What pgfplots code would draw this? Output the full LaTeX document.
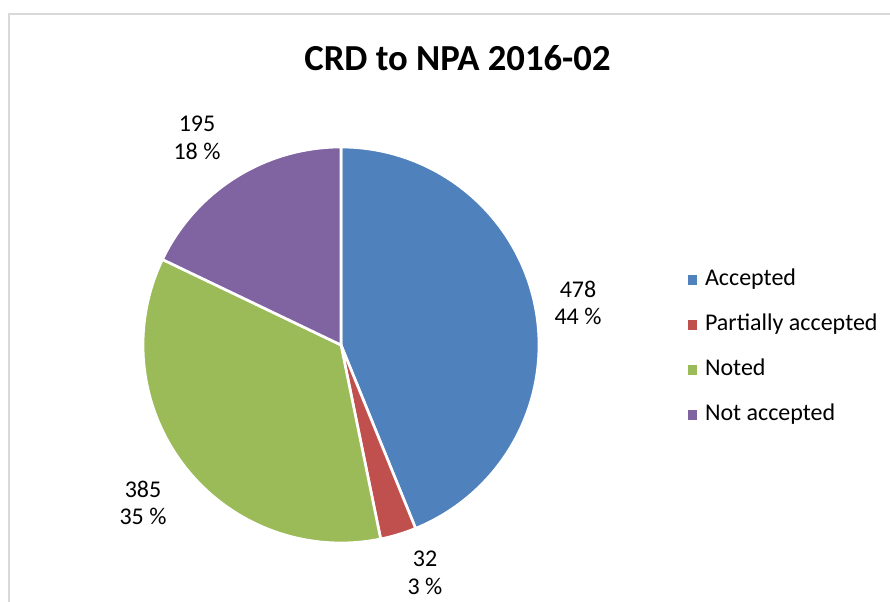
\documentclass[border=0pt]{standalone}
\usepackage{pgfplots}
\usepackage{pgfplotstable}
\pgfplotsset{compat=1.18}
\usepackage{fontspec}
\setmainfont{Carlito}

\definecolor{cAcc}{HTML}{4F81BD}
\definecolor{cPart}{HTML}{C0504D}
\definecolor{cNoted}{HTML}{9BBB59}
\definecolor{cNot}{HTML}{8064A2}
\definecolor{frame}{HTML}{D9D9D9}

\pgfplotstableread[col sep=comma]{
name,value
Accepted,478
Partially accepted,32
Noted,385
Not accepted,195
}\piedata

\pgfplotstablegetelem{0}{value}\of\piedata \let\vA\pgfplotsretval
\pgfplotstablegetelem{1}{value}\of\piedata \let\vB\pgfplotsretval
\pgfplotstablegetelem{2}{value}\of\piedata \let\vC\pgfplotsretval
\pgfplotstablegetelem{3}{value}\of\piedata \let\vD\pgfplotsretval
\pgfmathsetmacro\tot{\vA+\vB+\vC+\vD}
\pgfmathsetmacro\aA{90}
\pgfmathsetmacro\aB{90-360*(\vA/\tot)}
\pgfmathsetmacro\aC{90-360*((\vA+\vB)/\tot)}
\pgfmathsetmacro\aD{90-360*((\vA+\vB+\vC)/\tot)}
\pgfmathsetmacro\aE{90-360}

% pie geometry in pixel units (y up)
\def\cx{341}
\def\cy{257}
\def\rr{198}

\begin{document}
\begin{tikzpicture}
\begin{axis}[
  x=0.75pt, y=0.75pt,
  xmin=0, xmax=890, ymin=0, ymax=602,
  hide axis, clip=false,
  legend style={draw=none, fill=none, at={(axis cs:688,254.5)}, anchor=west,
    inner sep=0pt, outer sep=0pt, row sep=17.75pt, column sep=6pt,
    nodes={inner sep=0pt, text height=12pt, text depth=4pt},
    font=\fontsize{18pt}{21pt}\selectfont},
  legend cell align=left,
  legend image code/.code={\fill[#1,draw=none] (0pt,-3.4pt) rectangle (6.8pt,3.4pt);},
]
% frame of chart area
\draw[frame, line width=0.9pt] (9,0) -- (9,588) -- (890,588);

\addplot[fill=cAcc, draw=white, line width=2pt, domain=\aB:\aA, samples=120]
  ({\cx+\rr*cos(x)},{\cy+\rr*sin(x)}) -- (\cx,\cy) -- cycle;
\addlegendentry{Accepted}
\addplot[fill=cPart, draw=white, line width=2pt, domain=\aC:\aB, samples=20]
  ({\cx+\rr*cos(x)},{\cy+\rr*sin(x)}) -- (\cx,\cy) -- cycle;
\addlegendentry{Partially accepted}
\addplot[fill=cNoted, draw=white, line width=2pt, domain=\aD:\aC, samples=100]
  ({\cx+\rr*cos(x)},{\cy+\rr*sin(x)}) -- (\cx,\cy) -- cycle;
\addlegendentry{Noted}
\addplot[fill=cNot, draw=white, line width=2pt, domain=\aE:\aD, samples=60]
  ({\cx+\rr*cos(x)},{\cy+\rr*sin(x)}) -- (\cx,\cy) -- cycle;
\addlegendentry{Not accepted}

% title
\node[font=\fontsize{27.5pt}{32pt}\selectfont\bfseries] at (axis cs:457.5,544) {CRD to NPA 2016-02};

% data labels
\begin{scope}[every node/.style={align=center, font=\fontsize{18pt}{20.6pt}\selectfont}]
\node at (axis cs:578,299) {478\\44 \%};
\node at (axis cs:425,29) {32\\3 \%};
\node at (axis cs:143,99) {385\\35 \%};
\node at (axis cs:197,464) {195\\18 \%};
\end{scope}

\path (rel axis cs:0,0) coordinate (BL) (rel axis cs:1,1) coordinate (TR);
\end{axis}
\pgfresetboundingbox
\path[use as bounding box] (BL) rectangle (TR);
\end{tikzpicture}
\end{document}
